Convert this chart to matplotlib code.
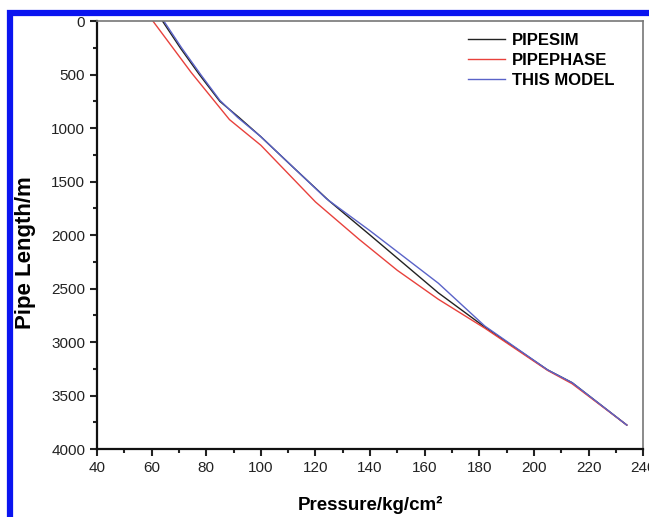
import matplotlib
matplotlib.use("Agg")
import matplotlib.pyplot as plt
from matplotlib.ticker import MultipleLocator
from matplotlib.patches import Rectangle

plt.rcParams['font.family'] = ['Liberation Sans', 'DejaVu Sans']

# PIPESIM (pressure, length)
pipesim_p = [64.0, 70.5, 77.5, 85.0, 92.0, 100.0, 112.0, 125.0, 140.0, 165.0, 182.0, 205.0, 214.0, 234.0]
pipesim_l = [0, 250, 500, 750, 900, 1080, 1370, 1680, 2000, 2540, 2860, 3260, 3380, 3776]
# PIPEPHASE
pipephase_p = [60.5, 67.5, 74.5, 81.5, 88.5, 100.0, 120.0, 136.0, 150.0, 165.0, 182.0, 205.0, 214.0, 234.0]
pipephase_l = [0, 240, 480, 700, 920, 1160, 1690, 2040, 2330, 2600, 2870, 3265, 3390, 3776]
# THIS MODEL
model_p = [64.5, 71.0, 78.0, 85.0, 91.5, 100.0, 112.0, 124.0, 140.0, 165.0, 182.0, 205.0, 214.0, 234.0]
model_l = [0, 250, 500, 740, 900, 1080, 1370, 1660, 1960, 2450, 2850, 3260, 3380, 3776]

fig = plt.figure(figsize=(6.49, 5.17), dpi=100)
ax = fig.add_axes([0.1495, 0.1315, 0.8415, 0.8275])

ax.plot(pipesim_p, pipesim_l, color='#222222', lw=1.0, label='PIPESIM')
ax.plot(pipephase_p, pipephase_l, color='#e8413c', lw=1.0, label='PIPEPHASE')
ax.plot(model_p, model_l, color='#5a63c8', lw=1.0, label='THIS MODEL')

ax.set_xlim(40, 240)
ax.set_ylim(4000, 0)
ax.xaxis.set_major_locator(MultipleLocator(20))
ax.xaxis.set_minor_locator(MultipleLocator(10))
ax.yaxis.set_major_locator(MultipleLocator(500))
ax.yaxis.set_minor_locator(MultipleLocator(250))
ax.tick_params(which='both', direction='out', top=False, right=False, width=1.5, labelsize=11, colors='#222222')
ax.tick_params(which='major', length=5)
ax.tick_params(which='minor', length=3)
for s in ['left', 'bottom']:
    ax.spines[s].set_linewidth(1.6)
    ax.spines[s].set_color('#111111')
for s in ['top', 'right']:
    ax.spines[s].set_linewidth(1.2)
    ax.spines[s].set_color('#777777')

ax.set_xlabel('Pressure/kg/cm²', fontsize=13.5, fontweight='bold')
ax.xaxis.set_label_coords(0.5, -0.11)
ax.set_ylabel('Pipe Length/m', fontsize=16, fontweight='bold')
ax.yaxis.set_label_coords(-0.112, 0.46)

leg = ax.legend(loc='upper right', frameon=False, prop={'weight': 'bold', 'size': 12},
                handlelength=2.2, handletextpad=0.45, labelspacing=0.3,
                bbox_to_anchor=(0.975, 1.008))

# blue frame
fig.patches.append(Rectangle((9.5/649, -0.1), 1.2, (517-12.5)/517 + 0.1, transform=fig.transFigure,
                             fill=False, edgecolor='#0a14f0', lw=4.5, zorder=10))

fig.savefig('out.png', dpi=100)
